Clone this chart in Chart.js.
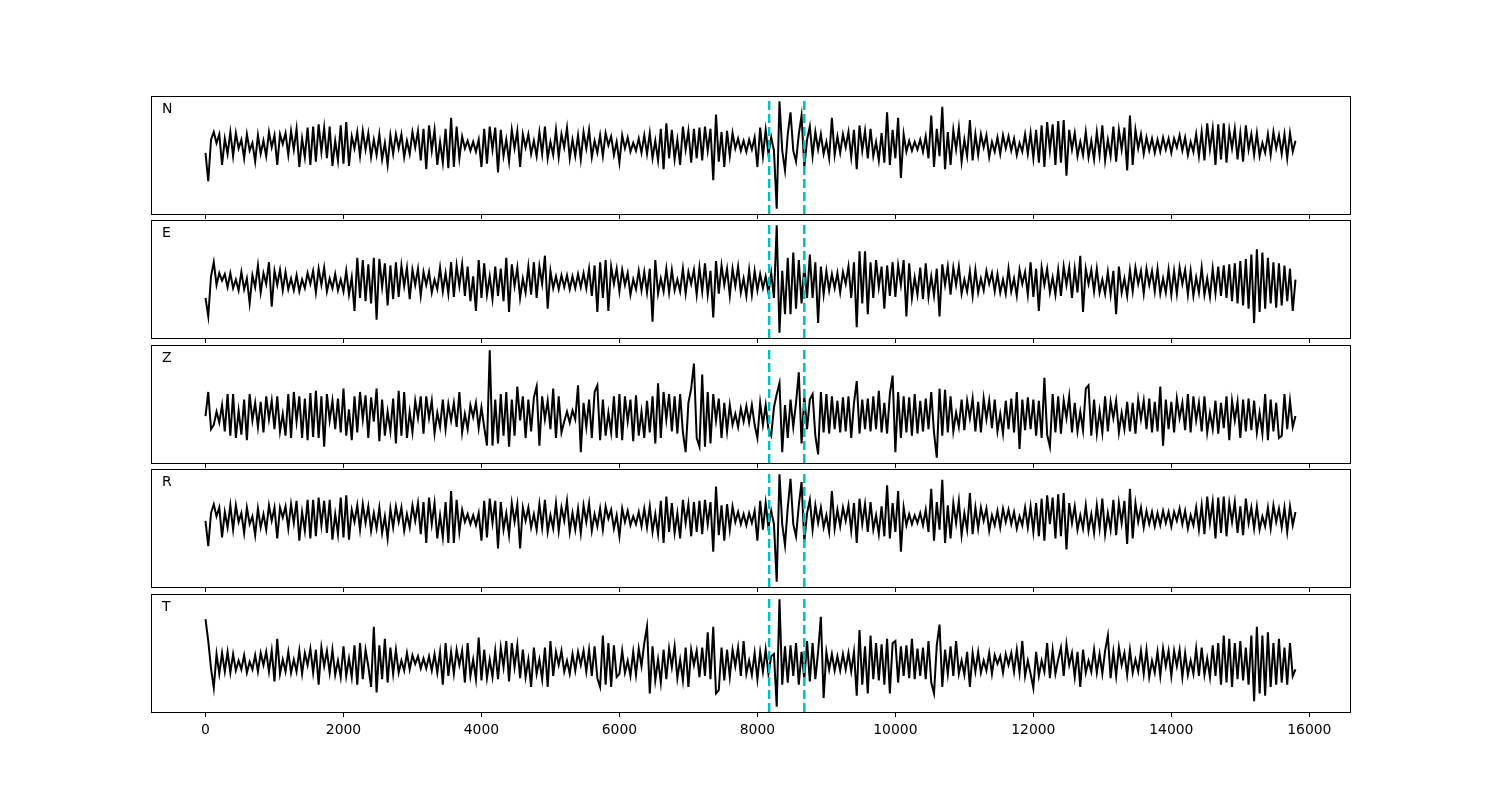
<!DOCTYPE html>
<html>
<head>
<meta charset="utf-8">
<script src="https://cdn.jsdelivr.net/npm/chart.js@4.4.1/dist/chart.umd.min.js"></script>
<style>
  html, body { margin: 0; padding: 0; background: #fff; }
  #wrap { position: relative; width: 1500px; height: 800px; overflow: hidden; }
  #wrap canvas { position: absolute; left: 0; }
</style>
</head>
<body>
<div id="wrap"></div>
<script>
// component names, one panel each
const componentNames = ["N", "E", "Z", "R", "T"];
// one value every 40 samples, 0 .. 15800
const sampleStep = 40;
const xTicks = [0, 2000, 4000, 6000, 8000, 10000, 12000, 14000, 16000];
// picked arrivals (dashed cyan)
const pickTimes = [8170, 8680];

const traceN = [
  -7, -33, 5, 12, 2, 10, -18, 6, -8, 12,
  -10, 11, -3, 5, -12, 10, -5, 2, -15, 9,
  -8, 4, -10, 12, -2, 9, -18, 10, 1, 11,
  -9, 13, -4, 15, -20, 6, -11, 16, -18, 17,
  -15, 19, -6, 16, -12, 17, -19, 4, -14, 18,
  -17, 21, -19, 8, -3, 12, -10, 13, -4, 11,
  -11, 5, -9, 10, -13, 2, -18, 9, -8, 10,
  -3, 10, -11, 4, -8, 12, -2, 13, -14, 15,
  -22, 18, -5, 14, -18, 3, -16, 15, -21, 25,
  -20, 17, -12, 8, -3, 4, -5, 3, -6, 5,
  -20, 15, -17, 17, -4, 16, -25, 14, -10, 5,
  -15, 14, -3, 13, -20, 10, -2, 10, -8, 4,
  -10, 12, -8, 17, -12, 3, -9, 14, -11, 10,
  -2, 16, -12, 5, -10, 9, -13, 12, -3, 14,
  -11, 4, -7, 9, -10, 11, 0, 8, -9, 3,
  -16, 9, -3, 7, -6, 2, -5, 6, -7, 9,
  -8, 11, -12, 4, -14, 15, -22, 20, -12, 14,
  -13, 5, -18, 17, -4, 13, -16, 15, -12, 16,
  -14, 17, -5, 15, -32, 28, -15, 12, -20, 13,
  -10, 11, -3, 6, -5, 4, -6, 5, -4, 7,
  -20, 16, -10, 14, -8, 7, -5, -58, 40, -5,
  -23, 10, 30, -5, -15, 10, 27, -20, 5, 17,
  -10, 12, -4, 10, -8, 3, -12, 25, -9, 8,
  -7, 10, -2, 12, -11, 14, -22, 18, -5, 13,
  -12, 15, -10, 3, -14, 11, -16, 30, -18, 14,
  -12, 25, -30, 10, -6, 4, -5, 3, -4, 5,
  -6, 8, -12, 27, -20, 15, -10, 35, -22, 12,
  -18, 14, -4, 16, -15, 5, -10, 23, -14, 10,
  -9, 10, -2, 9, -11, 3, -6, 7, -8, 9,
  -3, 8, -5, 6, -9, 2, -6, 10, -8, 11,
  -12, 14, -16, 18, -20, 21, -5, 19, -18, 22,
  -16, 23, -28, 14, -4, 11, -10, 3, -9, 12,
  -11, 4, -13, 12, -9, 18, -14, 5, -10, 17,
  -15, 14, -4, 16, -23, 27, -18, 14, -3, 10,
  -8, 7, -5, 6, -7, 5, -6, 7, -4, 6,
  -7, 6, -2, 9, -5, 7, -9, 3, -6, 10,
  -10, 12, -14, 20, -4, 15, -18, 19, -13, 20,
  -16, 14, -3, 15, -13, 11, -15, 18, -4, 10,
  -9, 11, -10, 2, -7, 10, -9, 12, -3, 9,
  -8, 10, -12, 11, -6, 4
];

const traceE = [
  -15, -32, 5, 18, -3, 8, 1, 7, -5, 8,
  -6, 2, -8, 9, -7, 3, -20, 6, -5, 15,
  -10, 8, -2, 18, -23, 10, -3, 11, -8, 9,
  -7, 3, -8, 6, -9, 2, -6, 8, -2, 10,
  -10, 12, -3, 13, -9, 3, -6, 7, -8, 2,
  -9, 10, -12, 4, -27, 22, -15, 20, -18, 16,
  -20, 22, -35, 21, -5, 17, -22, 15, -16, 18,
  -14, 15, -4, 13, -16, 11, -3, 12, -13, 9,
  -3, 9, -10, 2, -7, 13, -9, 8, -11, 18,
  -14, 15, -4, 16, -13, 14, -18, 5, -27, 20,
  -15, 17, -12, 5, -16, 14, -13, 12, -18, 22,
  -28, 16, -4, 13, -15, 3, -10, 14, -12, 18,
  -15, 14, -2, 24, -25, 10, -6, 5, -7, 6,
  -5, 6, -7, 5, -6, 7, -5, 8, -6, 12,
  -13, 15, -28, 18, -15, 20, -27, 14, -2, 12,
  -9, 11, -3, 8, -12, 2, -7, 10, -8, 9,
  -10, 12, -37, 20, -11, 3, -9, 12, -10, 11,
  -8, 2, -9, 12, -11, 9, -2, 11, -12, 13,
  -9, 17, -12, 10, -33, 19, -11, 15, -3, 12,
  -13, 12, -4, 14, -10, 3, -13, 11, -12, 10,
  -8, 7, -6, 5, -10, 8, -15, 52, -47, 10,
  -30, 22, -30, 27, -25, 20, -20, 15, -15, 25,
  -15, 18, -38, 14, -12, 10, -8, 7, -6, 8,
  -10, 9, -2, 14, -15, 18, -42, 28, -20, 28,
  -30, 18, -15, 20, -5, 14, -25, 15, -13, 18,
  -14, 15, -3, 20, -32, 17, -15, 4, -12, 13,
  -16, 17, -14, 5, -13, 12, -32, 16, -3, 14,
  -12, 13, -3, 14, -11, 2, -9, 10, -13, 11,
  -10, 3, -8, 10, -2, 8, -9, 7, -10, 2,
  -11, 12, -9, 3, -13, 11, -2, 9, -12, 18,
  -14, 12, -27, 13, -3, 12, -10, 4, -12, 11,
  -13, 14, -3, 13, -15, 12, -10, 24, -28, 12,
  -2, 11, -9, 12, -10, 2, -11, 9, -12, 10,
  -30, 14, -10, 3, -13, 11, -9, 13, -2, 10,
  -11, 12, -3, 10, -9, 12, -11, 3, -10, 11,
  -12, 10, -11, 13, -2, 11, -12, 10, -13, 4,
  -10, 13, -12, 3, -14, 12, -11, 14, -13, 15,
  -15, 16, -18, 17, -20, 19, -22, 21, -25, 25,
  -38, 30, -28, 27, -25, 22, -20, 18, -24, 17,
  -22, 15, -18, 12, -27, 2
];

const traceZ = [
  0, 22, -12, -8, 4, -6, 10, -14, 20, -18,
  20, -20, 5, -17, 15, -22, 20, -4, 12, -10,
  13, -15, 18, -3, 14, -12, 18, -14, 2, -18,
  20, -20, 22, -5, 18, -20, 16, -22, 21, -19,
  23, -20, 18, -28, 20, -4, 14, -12, 16, -15,
  25, -18, 6, -22, 18, -15, 22, -3, 19, -20,
  17, -5, 25, -23, 15, -18, 4, -14, 16, -25,
  23, -18, 22, -20, 4, -15, 14, -2, 18, -16,
  18, -2, 14, -16, 3, -10, 15, -12, 11, -4,
  12, -10, 22, -15, 2, -12, 10, -1, 12, -11,
  8, -10, -27, 60, -27, 15, -25, 20, -18, 22,
  -28, 15, -18, 27, -4, 18, -20, 15, -14, 17,
  27, -27, 18, -3, 14, -12, 25, -20, 18, -15,
  -5, 4, -6, 5, -3, 28, -33, 12, -10, 15,
  -20, 22, 28, -22, 15, -18, 3, -15, 18, -20,
  20, -22, 18, -5, 15, -23, 19, -18, 4, -20,
  14, -15, 18, -25, 30, -20, 22, -3, 20, -14,
  18, -16, 20, -15, -33, 12, 25, 48, -20, -28,
  38, -28, 22, -25, 20, -4, 16, -20, 12, -14,
  10, -8, 2, -10, 7, -5, 9, -6, 10, -8,
  -20, 12, -8, 10, -12, -18, 8, 20, 30, -33,
  10, -20, 15, -10, 12, 40, -25, 18, -12, 15,
  20, -18, -35, 22, -15, 20, -16, 18, -12, 14,
  -15, 17, -14, 18, -20, 12, 32, -16, 15, -12,
  16, -14, 18, -12, 23, -15, 12, -16, 20, 37,
  -33, 22, -20, 18, -15, 17, -18, 20, -16, 14,
  -14, 16, -12, 22, -15, -38, 25, -18, 24, -15,
  18, -14, 3, -10, 15, -13, 14, -2, 16, -14,
  13, -15, 16, -3, 14, -11, 15, -14, 2, -16,
  14, -12, 16, -15, 22, -30, 15, -13, 17, -12,
  15, -18, 14, -20, 35, -17, -28, 20, -15, 18,
  -16, 14, -2, 18, -15, 12, -14, 4, -13, 25,
  28, -18, 15, -16, 5, -15, 18, -14, 13, -2,
  14, -15, 3, -12, 13, -14, 12, -16, 15, -3,
  14, -12, 16, -15, 13, -14, 27, -27, 15, -12,
  13, -15, 16, -2, 12, -13, 20, -15, 18, -4,
  12, -14, 18, -15, 3, -12, 14, -16, 12, -11,
  18, -22, 14, -4, 13, -20, 15, -14, 16, -13,
  14, -15, 3, -16, 20, -22, 15, -14, 12, -20,
  -18, 20, -12, 14, -10, 0
];

const traceR = [
  -2, -25, 5, 13, 2, 10, -17, 6, -8, 12,
  -10, 12, -3, 5, -13, 10, -5, 2, -15, 9,
  -8, 4, -10, 12, -2, 10, -18, 10, 1, 11,
  -9, 13, -4, 16, -20, 6, -11, 17, -18, 17,
  -16, 19, -6, 16, -13, 17, -19, 4, -14, 19,
  -17, 21, -19, 8, -3, 12, -10, 13, -4, 11,
  -11, 5, -9, 10, -13, 2, -18, 9, -8, 11,
  -3, 10, -11, 4, -8, 12, -2, 14, -14, 15,
  -22, 19, -5, 14, -18, 3, -17, 15, -22, 25,
  -22, 17, -12, 8, -3, 4, -5, 3, -6, 5,
  -20, 16, -17, 18, -4, 16, -27, 15, -10, 5,
  -15, 14, -3, 13, -27, 10, -2, 10, -8, 4,
  -10, 13, -8, 17, -12, 3, -9, 14, -11, 10,
  -2, 16, -12, 5, -10, 9, -13, 12, -3, 14,
  -11, 4, -7, 9, -10, 11, 0, 8, -9, 3,
  -16, 9, -3, 7, -6, 2, -5, 6, -7, 9,
  -8, 11, -12, 4, -14, 16, -22, 20, -12, 14,
  -13, 5, -18, 17, -4, 13, -16, 15, -12, 16,
  -14, 17, -5, 15, -30, 29, -15, 12, -20, 13,
  -10, 11, -3, 6, -5, 4, -6, 5, -4, 7,
  -20, 16, -10, 14, -8, 7, -5, -57, 40, -5,
  -24, 10, 36, -5, -16, 12, 33, -21, 5, 17,
  -10, 12, -4, 10, -8, 3, -12, 25, -9, 8,
  -7, 10, -2, 12, -11, 14, -22, 18, -5, 13,
  -12, 15, -10, 3, -14, 11, -16, 30, -18, 14,
  -12, 25, -30, 10, -6, 4, -5, 3, -4, 5,
  -6, 8, -12, 27, -20, 15, -10, 35, -22, 12,
  -18, 14, -4, 16, -15, 5, -10, 23, -14, 10,
  -9, 10, -2, 9, -11, 3, -6, 7, -8, 9,
  -3, 8, -5, 6, -9, 2, -6, 10, -8, 11,
  -12, 14, -16, 18, -20, 21, -5, 19, -18, 22,
  -16, 23, -28, 14, -4, 11, -10, 3, -9, 12,
  -11, 4, -13, 12, -9, 18, -14, 5, -10, 17,
  -15, 14, -4, 16, -23, 27, -18, 14, -3, 10,
  -8, 7, -5, 6, -7, 5, -6, 7, -4, 6,
  -7, 6, -2, 9, -5, 7, -9, 3, -6, 10,
  -10, 12, -14, 20, -4, 15, -18, 19, -13, 20,
  -16, 14, -3, 15, -13, 11, -15, 18, -4, 10,
  -9, 11, -10, 2, -7, 10, -9, 12, -3, 9,
  -8, 10, -12, 11, -6, 6
];

const traceT = [
  40, 20, -5, -23, 8, -10, 9, -8, 10, -9,
  8, -7, 2, -6, 7, -9, 1, -6, 7, -8,
  9, -2, 10, -8, 11, -17, 22, -10, 3, -8,
  10, -9, 3, -8, 11, -10, 9, -2, 13, -9,
  12, -20, 14, -3, 11, -9, 12, -11, 2, -13,
  15, -12, 4, -13, 16, -20, 18, -15, 12, -3,
  -22, 33, -27, 16, -15, 22, -18, 14, -10, 12,
  -9, 2, -7, 9, -6, 7, -1, 6, -5, 4,
  -5, 6, -7, 8, -9, 10, -20, 18, -12, 10,
  -10, 12, -2, 11, -18, 18, -12, 3, -15, 23,
  -16, 12, -14, 3, -13, 11, -15, 14, -4, 20,
  -17, 18, -4, 16, -14, 12, -13, 3, -22, 14,
  -10, 3, -15, 14, -22, 20, -12, 10, -2, 11,
  -8, 2, -10, 8, -7, 10, -2, 11, -8, 12,
  -12, 15, -14, -22, 25, -20, 18, -22, 16, -13,
  -10, 11, -9, 2, -12, 10, -11, 13, -3, 18,
  33, -28, 15, -16, 3, -18, 12, -15, 13, -4,
  15, -14, 3, -16, 14, -22, 12, -2, 11, -13,
  14, -12, 28, -15, 33, -28, -25, 14, -16, 12,
  -13, 12, -3, 14, -12, 20, -10, 2, -11, 9,
  -15, 10, -8, 12, -10, 6, 8, -40, 58, -20,
  15, -18, 16, -12, 18, -20, 10, -15, 20, -17,
  18, -15, 10, 42, -32, 10, -6, 8, -7, 6,
  -7, 8, -6, 9, -8, 10, -30, 30, -20, 15,
  -28, 25, -15, 18, -16, 17, -20, 22, -28, 18,
  20, -18, 15, -12, 16, -14, 22, -15, 13, -12,
  14, -15, 20, -18, -28, 16, 35, -22, 12, -10,
  15, -12, 20, -10, 2, -11, 10, -22, 9, -8,
  10, -9, 2, -7, 9, -10, 7, -1, 6, -9,
  8, -2, 9, -8, 12, -9, 20, -12, 2, -10,
  -23, 10, -12, 2, -8, 18, -14, 12, -10, 3,
  14, -12, 17, -2, 9, -13, 10, -22, 12, -9,
  2, -8, 12, -9, 8, -10, 11, 25, -14, 10,
  -12, 14, -2, 9, -11, 12, -9, 3, -8, 11,
  -10, 12, -13, 2, -9, 10, -12, 13, -3, 11,
  -12, 11, -3, 12, -13, 9, -11, 2, -10, 13,
  -12, 14, -11, 4, -13, 16, -12, 18, -20, 25,
  -18, 22, -22, 18, -15, 20, -16, 14, -20, 25,
  -35, 33, -28, 25, -30, 28, -22, 18, -20, 22,
  -18, 14, -20, 18, -12, -6
];

const traces = [traceN, traceE, traceZ, traceR, traceT];

// layout of the five stacked panels
const panelTops = [96, 220, 345, 469, 594];
const panelHeight = 118;

Chart.defaults.font.family = "'DejaVu Sans', sans-serif";

// black box round each panel + component letter
const framePlugin = {
  id: "frame",
  afterDraw(chart, args, opts) {
    const { ctx, chartArea: a } = chart;
    ctx.save();
    ctx.strokeStyle = "#000";
    ctx.lineWidth = 1;
    ctx.strokeRect(a.left + 0.5, a.top + 0.5, a.right - a.left, a.bottom - a.top);
    ctx.fillStyle = "#000";
    ctx.font = "14px 'DejaVu Sans', sans-serif";
    ctx.textBaseline = "alphabetic";
    ctx.fillText(opts.label, a.left + 11, a.top + 17);
    ctx.restore();
  }
};

const wrap = document.getElementById("wrap");

traces.forEach((trace, k) => {
  const canvas = document.createElement("canvas");
  canvas.width = 1500;
  canvas.height = panelHeight + 2 + 30;
  canvas.style.top = (panelTops[k] - 2) + "px";
  wrap.appendChild(canvas);

  const points = trace.map((v, i) => ({ x: i * sampleStep, y: v }));
  const lo = Math.min(...trace);
  const hi = Math.max(...trace);
  const pad = (hi - lo) * 0.05;
  const yMin = lo - pad;
  const yMax = hi + pad;

  const pickSets = pickTimes.map(t => ({
    data: [{ x: t, y: yMin }, { x: t, y: yMax }],
    borderColor: "#00bfbf",
    borderWidth: 2.5,
    borderDash: [9, 4],
    pointRadius: 0,
    fill: false
  }));

  new Chart(canvas, {
    type: "line",
    data: {
      datasets: [
        ...pickSets,
        {
          data: points,
          borderColor: "#000",
          borderWidth: 2,
          pointRadius: 0,
          tension: 0,
          fill: false
        }
      ]
    },
    options: {
      responsive: false,
      animation: false,
      devicePixelRatio: 1,
      layout: { padding: { left: 151, right: 150, top: 2, bottom: 0 } },
      plugins: {
        legend: { display: false },
        tooltip: { enabled: false },
        frame: { label: componentNames[k] }
      },
      scales: {
        x: {
          type: "linear",
          min: -790,
          max: 16590,
          afterBuildTicks: s => { s.ticks = xTicks.map(v => ({ value: v })); },
          afterFit: s => { s.height = 30; },
          grid: { drawOnChartArea: false, drawTicks: true, tickLength: 5, color: "#000", lineWidth: 1 },
          border: { display: false },
          ticks: {
            display: k === traces.length - 1,
            padding: 5,
            color: "#000",
            maxRotation: 0,
            font: { size: 13.9 },
            callback: v => String(v)
          }
        },
        y: { display: false, min: yMin, max: yMax }
      }
    },
    plugins: [framePlugin]
  });
});
</script>
</body>
</html>
